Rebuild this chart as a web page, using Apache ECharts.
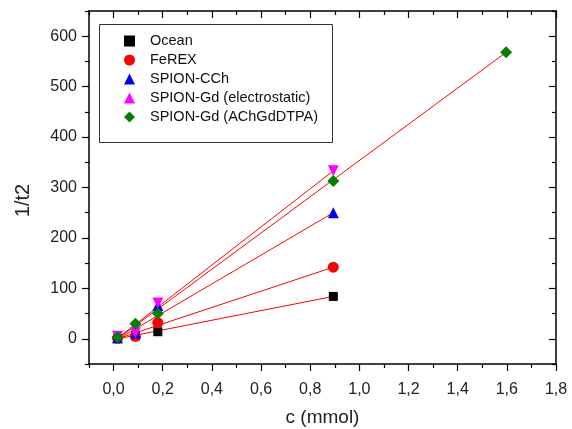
<!DOCTYPE html>
<html>
<head>
<meta charset="utf-8">
<script src="https://cdn.jsdelivr.net/npm/echarts@6/dist/echarts.min.js"></script>
<style>
  html, body { margin: 0; padding: 0; background: #fff; }
  #chart { width: 572px; height: 429px; }
</style>
</head>
<body>
<div id="chart"></div>
<script>
  // measured points
  var concX = [0.016, 0.089, 0.18, 0.894];
  var concXLong = [0.016, 0.089, 0.18, 0.894, 1.597];
  var oceanY = [0, 6, 14, 84];
  var ferexY = [1, 5, 32, 142];
  var cchY = [2, 11, 66, 250];
  var gdElecY = [5, 12, 71, 333];
  var gdAchY = [3, 30, 50, 313, 568];

  // linear fits (start / end)
  var fitX = [0.016, 0.894];
  var fitXLong = [0.016, 1.597];
  var oceanFit = [0, 84];
  var ferexFit = [0, 142];
  var cchFit = [-1, 250];
  var gdElecFit = [1, 333];
  var gdAchFit = [0, 568];

  var names = ["Ocean", "FeREX", "SPION-CCh", "SPION-Gd (electrostatic)", "SPION-Gd (AChGdDTPA)"];

  // ticks
  var xMajor = [0, 0.2, 0.4, 0.6, 0.8, 1.0, 1.2, 1.4, 1.6, 1.8];
  var xMinor = [-0.1, 0.1, 0.3, 0.5, 0.7, 0.9, 1.1, 1.3, 1.5, 1.7];
  var yMajor = [0, 100, 200, 300, 400, 500, 600];
  var yMinor = [-50, 50, 150, 250, 350, 450, 550, 650];

  function pairs(xs, ys) {
    return xs.map(function (x, i) { return [x, ys[i]]; });
  }

  function frameAxis(pos, min, max, ticks, len, inside, showLine) {
    return {
      type: "value",
      position: pos,
      min: min,
      max: max,
      splitLine: { show: false },
      axisLine: { show: showLine, onZero: false, lineStyle: { color: "#000", width: 1.5 } },
      axisTick: { show: true, inside: inside, length: len, customValues: ticks, lineStyle: { color: "#000", width: 1.2 } },
      axisLabel: { show: false }
    };
  }

  function dots(name, data, symbol, size, color, rotate) {
    return {
      name: name,
      type: "scatter",
      data: data,
      symbol: symbol,
      symbolSize: size,
      symbolRotate: rotate || 0,
      itemStyle: { color: color, opacity: 1 },
      z: 2
    };
  }

  function fit(data) {
    return { type: "line", data: data, showSymbol: false, lineStyle: { color: "#ff0000", width: 1 }, z: 1 };
  }

  var chart = echarts.init(document.getElementById("chart"));

  var xBottom = frameAxis("bottom", -0.1, 1.8, xMajor, 7, false, true);
  xBottom.axisLabel = {
    show: true,
    customValues: xMajor,
    margin: 18,
    fontSize: 16,
    color: "#222",
    fontFamily: "Liberation Sans, Arial",
    formatter: function (v) { return v.toFixed(1).replace(".", ","); }
  };
  xBottom.name = "c (mmol)";
  xBottom.nameLocation = "middle";
  xBottom.nameGap = 44;
  xBottom.nameTextStyle = { fontSize: 19, color: "#222", fontFamily: "Liberation Sans, Arial" };

  var yLeft = frameAxis("left", -50, 650, yMajor, 7, false, true);
  yLeft.axisLabel = {
    show: true,
    customValues: yMajor,
    margin: 12,
    fontSize: 16,
    color: "#222",
    fontFamily: "Liberation Sans, Arial"
  };
  yLeft.name = "1/t2";
  yLeft.nameLocation = "middle";
  yLeft.nameGap = 56;
  yLeft.nameTextStyle = { fontSize: 20, color: "#222", fontFamily: "Liberation Sans, Arial", padding: [0, 26, 0, 0] };

  var option = {
    animation: false,
    backgroundColor: "#fff",
    grid: { left: 89, right: 16, top: 11, bottom: 65, outerBoundsMode: "none" },
    xAxis: [
      xBottom,
      frameAxis("bottom", -0.1, 1.8, xMinor, 4, false, false),
      frameAxis("top", -0.1, 1.8, xMajor, 7, true, true),
      frameAxis("top", -0.1, 1.8, xMinor, 4, true, false)
    ],
    yAxis: [
      yLeft,
      frameAxis("left", -50, 650, yMinor, 4, false, false),
      frameAxis("right", -50, 650, yMajor, 7, true, true),
      frameAxis("right", -50, 650, yMinor, 4, true, false)
    ],
    graphic: [
      {
        type: "rect",
        z: 3,
        shape: { x: 99.5, y: 24.5, width: 233, height: 118 },
        style: { fill: "#fff", stroke: "#333", lineWidth: 1 }
      }
    ],
    legend: {
      data: names,
      orient: "vertical",
      left: 119,
      top: 28,
      itemWidth: 11,
      itemHeight: 11,
      itemGap: 3,
      textStyle: { fontSize: 14.5, lineHeight: 16, color: "#111", fontFamily: "Liberation Sans, Arial", padding: [0, 0, 0, 10] },
      z: 5
    },
    series: [
      fit(pairs(fitX, oceanFit)),
      fit(pairs(fitX, ferexFit)),
      fit(pairs(fitX, cchFit)),
      fit(pairs(fitX, gdElecFit)),
      fit(pairs(fitXLong, gdAchFit)),
      dots(names[0], pairs(concX, oceanY), "rect", 9, "#000"),
      dots(names[1], pairs(concX, ferexY), "circle", 11, "#ff0000"),
      dots(names[2], pairs(concX, cchY), "triangle", 11, "#0000ff"),
      dots(names[3], pairs(concX, gdElecY), "triangle", 11, "#ff00ff", 180),
      dots(names[4], pairs(concXLong, gdAchY), "diamond", 12, "#008000")
    ]
  };

  chart.setOption(option);
</script>
</body>
</html>
